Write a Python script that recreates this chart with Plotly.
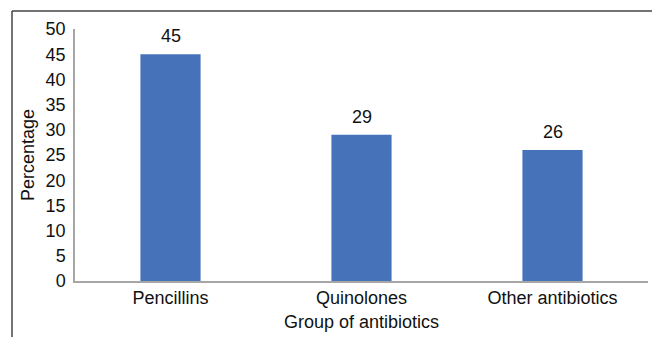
import plotly.graph_objects as go

categories = ["Pencillins", "Quinolones", "Other antibiotics"]
percentages = [45, 29, 26]
y_ticks = [0, 5, 10, 15, 20, 25, 30, 35, 40, 45, 50]

W, H = 652, 337
L, R, T, B = 75, 4, 29, 56
pw, ph = W - L - R, H - T - B


def px_x(p):
    return (p - L) / pw


def px_y(p):
    return (H - B - p) / ph


font_family = "Liberation Sans, Arial, sans-serif"
fsize = 18

fig = go.Figure(
    go.Bar(
        x=categories,
        y=percentages,
        marker=dict(color="#4672B9", line=dict(width=0)),
        width=0.315,
        cliponaxis=False,
    )
)

# value labels above each bar
for cat, val in zip(categories, percentages):
    fig.add_annotation(
        x=cat, y=val, text=str(val), showarrow=False,
        yanchor="bottom", yshift=6,
        font=dict(size=fsize, color="#111111", family=font_family),
    )

fig.update_layout(
    width=W,
    height=H,
    margin=dict(l=L, r=R, t=T, b=B),
    paper_bgcolor="white",
    plot_bgcolor="white",
    font=dict(family=font_family, size=fsize, color="#111111"),
    showlegend=False,
    xaxis=dict(
        showline=True,
        linecolor="#a6a6a6",
        linewidth=1.5,
        ticks="",
        showgrid=False,
        tickfont=dict(size=fsize),
        title=dict(text="Group of antibiotics", font=dict(size=fsize), standoff=8),
    ),
    yaxis=dict(
        range=[0, 50],
        tickvals=y_ticks,
        showline=True,
        linecolor="#a6a6a6",
        linewidth=1.5,
        ticks="",
        showgrid=False,
        zeroline=False,
        tickfont=dict(size=fsize),
        ticklabelstandoff=4,
        title=dict(text="Percentage", font=dict(size=fsize), standoff=6),
    ),
    shapes=[
        dict(type="line", xref="paper", yref="paper",
             x0=px_x(12), x1=px_x(12), y0=px_y(11), y1=px_y(340),
             line=dict(color="#444444", width=1.5)),
        dict(type="line", xref="paper", yref="paper",
             x0=px_x(12), x1=px_x(655), y0=px_y(11), y1=px_y(11),
             line=dict(color="#444444", width=1.5)),
    ],
)

fig.write_html("out.html")
